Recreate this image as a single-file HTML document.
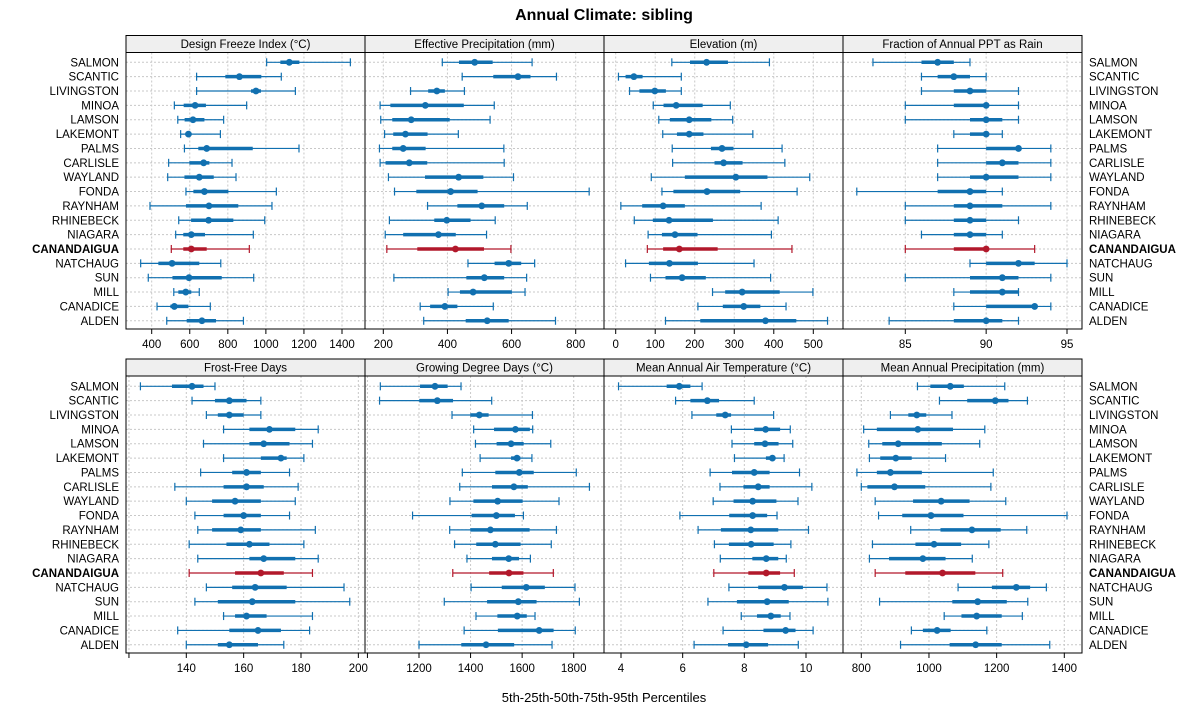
<!DOCTYPE html>
<html><head><meta charset="utf-8"><style>
html,body{margin:0;padding:0;background:#fff;}
svg{display:block;font-family:"Liberation Sans",Arial,sans-serif;}
</style></head><body>
<svg id="chart" width="1200" height="725" viewBox="0 0 1200 725" xmlns="http://www.w3.org/2000/svg">
<text x="604" y="20" text-anchor="middle" font-size="16" font-weight="bold">Annual Climate: sibling</text>
<text x="604" y="702" text-anchor="middle" font-size="13">5th-25th-50th-75th-95th Percentiles</text>
</svg>
<script>
const sites = ["SALMON","SCANTIC","LIVINGSTON","MINOA","LAMSON","LAKEMONT","PALMS","CARLISLE","WAYLAND","FONDA","RAYNHAM","RHINEBECK","NIAGARA","CANANDAIGUA","NATCHAUG","SUN","MILL","CANADICE","ALDEN"];
const highlight = "CANANDAIGUA";
const panelTitles = ["Design Freeze Index (°C)","Effective Precipitation (mm)","Elevation (m)","Fraction of Annual PPT as Rain","Frost-Free Days","Growing Degree Days (°C)","Mean Annual Air Temperature (°C)","Mean Annual Precipitation (mm)"];
const freezeIndex = [[1004,1076,1123,1176,1444],[636,787,861,976,1081],[636,922,948,974,1155],[519,568,628,685,899],[537,573,617,677,778],[552,580,593,605,761],[572,645,689,931,1174],[489,598,673,703,822],[484,572,650,726,843],[580,619,677,803,1055],[391,580,701,855,1032],[542,607,699,829,994],[526,566,608,680,934],[503,566,608,689,913],[342,435,507,650,763],[382,509,596,768,936],[516,540,579,608,650],[428,498,519,593,708],[479,584,664,738,882]];
const effPrecip = [[384,436,485,541,664],[446,543,620,659,740],[285,340,367,392,453],[190,222,331,451,546],[192,228,287,407,533],[204,231,269,338,434],[188,228,262,332,576],[190,207,281,337,577],[216,330,435,512,606],[235,303,410,494,842],[338,431,507,577,649],[219,359,398,472,549],[206,262,372,426,522],[211,306,425,514,598],[464,547,591,630,672],[233,459,515,577,647],[402,439,480,601,642],[315,346,392,431,543],[326,457,524,591,737]];
const elevation = [[142,188,230,284,389],[7,25,46,68,166],[35,60,99,127,166],[95,121,153,220,290],[109,137,186,242,296],[119,155,186,222,347],[143,241,269,298,421],[144,250,273,321,428],[90,175,304,384,491],[117,146,231,315,459],[13,67,120,175,368],[47,94,135,246,411],[82,117,150,207,394],[80,120,161,258,446],[25,84,136,208,350],[88,126,168,228,392],[245,277,320,415,499],[208,271,324,366,431],[126,214,379,457,536]];
const rainFraction = [[83,86,87,88,89],[86,87,88,89,90],[86,88,89,90,92],[85,88,90,90,92],[85,89,90,91,92],[88,89,90,90,91],[87,90,92,92,94],[87,90,91,92,94],[87,89,90,92,94],[82,87,89,90,91],[85,88,89,91,94],[85,88,89,90,92],[86,88,89,90,91],[85,88,90,90,93],[89,90,92,93,95],[85,89,91,92,94],[88,89,91,92,92],[88,90,93,93,94],[84,88,90,91,92]];
const frostFree = [[124,135,142,146,150],[142,150,155,161,166],[147,151,155,160,166],[153,162,169,178,186],[146,162,167,176,184],[153,166,173,175,181],[145,156,161,166,176],[136,153,161,167,179],[140,149,157,166,178],[143,153,160,166,176],[144,149,159,166,185],[141,154,162,169,181],[144,162,167,178,186],[141,157,166,174,184],[147,156,164,175,195],[143,151,163,178,197],[153,157,161,168,184],[137,155,165,173,183],[140,151,155,165,174]];
const degreeDays = [[1050,1204,1262,1311,1363],[1047,1201,1271,1332,1482],[1328,1399,1434,1470,1640],[1412,1491,1574,1630,1641],[1419,1501,1557,1606,1711],[1437,1557,1580,1593,1638],[1368,1496,1589,1645,1810],[1358,1483,1568,1622,1861],[1320,1411,1505,1602,1743],[1175,1404,1500,1572,1605],[1319,1399,1477,1629,1733],[1338,1422,1496,1594,1713],[1386,1483,1548,1588,1632],[1331,1472,1549,1605,1721],[1402,1521,1616,1688,1805],[1298,1464,1585,1656,1822],[1421,1504,1581,1618,1650],[1375,1506,1666,1722,1806],[1200,1364,1460,1569,1716]];
const airTemp = [[3.92,5.48,5.89,6.25,6.63],[5.77,6.25,6.80,7.18,8.32],[6.30,7.09,7.38,7.57,8.95],[7.58,8.32,8.69,9.16,9.49],[7.60,8.32,8.67,9.11,9.57],[7.68,8.70,8.91,8.99,9.29],[6.89,7.60,8.32,8.82,9.79],[7.21,7.97,8.45,8.82,10.19],[6.99,7.65,8.27,9.04,9.74],[5.91,7.51,8.27,8.74,9.06],[6.50,7.24,8.21,9.10,10.08],[7.03,7.50,8.22,8.95,9.51],[7.22,8.26,8.71,9.10,9.36],[7.01,8.13,8.71,9.16,9.62],[7.50,8.45,9.30,9.90,10.68],[6.82,7.76,8.74,9.44,10.71],[7.90,8.41,8.86,9.18,9.48],[7.31,8.62,9.34,9.66,10.23],[6.37,7.47,8.06,8.77,9.75]];
const annualPrecip = [[966,1004,1063,1103,1224],[1031,1113,1196,1235,1291],[886,939,964,992,1068],[807,846,967,1071,1165],[822,862,909,1038,1150],[824,856,902,949,1049],[787,846,886,979,1190],[800,818,898,989,1183],[841,953,1036,1120,1227],[851,921,1006,1102,1408],[946,1034,1127,1212,1289],[833,960,1015,1095,1177],[824,882,982,1049,1128],[841,930,1040,1137,1218],[1086,1186,1258,1299,1347],[854,1069,1144,1230,1292],[1045,1096,1141,1215,1276],[948,982,1024,1064,1171],[916,1061,1138,1215,1357]];
const tickSets = [[400,600,800,1000,1200,1400],[200,400,600,800],[0,100,200,300,400,500],[85,90,95],[120,140,160,180,200],[1000,1200,1400,1600,1800],[4,6,8,10],[800,1000,1200,1400]];
const unlabeledTicks = [[],[],[],[],[120],[1000],[],[]];
const panelData = [freezeIndex,effPrecip,elevation,rainFraction,frostFree,degreeDays,airTemp,annualPrecip];
// axis calibration: two reference values per panel and their pixel positions
const calib = [[400,151.7,1400,342.0],[200,383.3,800,575.7],[0,615.7,500,813.3],[85,905.3,95,1067],[140,186.3,180,301],[1200,419,1800,573.7],[4,621,10,806],[800,861.3,1400,1064.3]];

const NS="http://www.w3.org/2000/svg";
const svg=document.getElementById('chart');
function mk(tag,attrs,parent){const e=document.createElementNS(NS,tag);for(const k in attrs)e.setAttribute(k,attrs[k]);(parent||svg).appendChild(e);return e;}
const colX=[126,365,604,843], colW=239;
const rows=[{stripTop:35.5,plotTop:52.5,plotBot:329,y0:62.3},{stripTop:359,plotTop:376,plotBot:653,y0:386.3}];
const step=14.36;
function yPos(r,i){return rows[r].y0+i*step;}

for(let p=0;p<8;p++){
  const r=p<4?0:1, c=p%4, x0=colX[c], x1=x0+colW, R=rows[r];
  const [va,pa,vb,pb]=calib[p];
  const sx=v=>pa+(v-va)*(pb-pa)/(vb-va);
  const g=mk('g',{});
  
  
  // strip
  const st=mk('rect',{x:x0,y:R.stripTop,width:colW,height:R.plotTop-R.stripTop,fill:'#efefef',stroke:'#000','stroke-width':1},g);
  
  
  const tt=mk('text',{x:x0+colW/2,y:R.stripTop+12.5,'text-anchor':'middle','font-size':11.5},g);
  tt.textContent=panelTitles[p];
  
  
  // grid
  tickSets[p].forEach(t=>{const x=sx(t); if(x>x0+1&&x<x1-1) mk('line',{x1:x,x2:x,y1:R.plotTop,y2:R.plotBot,stroke:'#c8c8c8','stroke-dasharray':'2,2','stroke-width':1},g);});
  sites.forEach((s,i)=>{mk('line',{x1:x0,x2:x1,y1:yPos(r,i),y2:yPos(r,i),stroke:'#c8c8c8','stroke-dasharray':'2,2','stroke-width':1},g);});
  // marks
  panelData[p].forEach((d,i)=>{
    const y=yPos(r,i), col=sites[i]===highlight?'#b2182b':'#1170b0';
    const m=mk('g',{},g);
    
    
    mk('line',{x1:sx(d[0]),x2:sx(d[4]),y1:y,y2:y,stroke:col,'stroke-width':1.2},m);
    mk('line',{x1:sx(d[0]),x2:sx(d[0]),y1:y-4,y2:y+4,stroke:col,'stroke-width':1.2},m);
    mk('line',{x1:sx(d[4]),x2:sx(d[4]),y1:y-4,y2:y+4,stroke:col,'stroke-width':1.2},m);
    mk('line',{x1:sx(d[1]),x2:sx(d[3]),y1:y,y2:y,stroke:col,'stroke-width':3.5},m);
    mk('circle',{cx:sx(d[2]),cy:y,r:3.4,fill:col},m);
  });
  // frame
  mk('rect',{x:x0,y:R.plotTop,width:colW,height:R.plotBot-R.plotTop,fill:'none',stroke:'#000','stroke-width':1},g);
  // ticks
  const ax=mk('g',{},g);
  
  
  tickSets[p].forEach(t=>{const x=sx(t);
    mk('line',{x1:x,x2:x,y1:R.plotBot,y2:R.plotBot+5,stroke:'#000','stroke-width':1},ax);
    if(!unlabeledTicks[p].includes(t)){const lt=mk('text',{x:x,y:R.plotBot+19,'text-anchor':'middle','font-size':11.5},ax);lt.textContent=t;}
  });
}
// row labels
for(let r=0;r<2;r++){
  sites.forEach((s,i)=>{
    const y=yPos(r,i)+4;
    const bold=s===highlight?'bold':'normal';
    const l=mk('text',{x:119,y:y,'text-anchor':'end','font-size':11.5,'font-weight':bold});
    l.textContent=s;
    
    
    const rl=mk('text',{x:1089,y:y,'text-anchor':'start','font-size':11.5,'font-weight':bold});
    rl.textContent=s;
    
    
  });
}
</script>
</body></html>
